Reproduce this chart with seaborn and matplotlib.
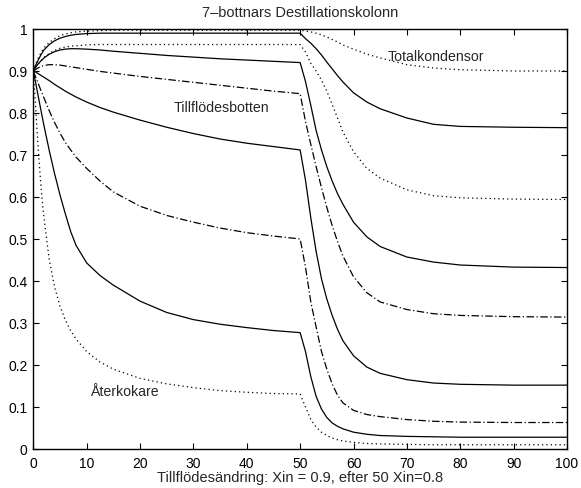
import matplotlib
matplotlib.use("Agg")
import matplotlib.pyplot as plt
import seaborn as sns

# time grid (same for every tray)
t = [0, 0.5, 1, 1.5, 2, 3, 4, 5, 6, 7, 8, 10, 12.5, 15, 20, 25, 30, 35, 40, 45,
     50, 51, 52, 53, 54, 55, 56, 57, 58, 60, 62.5, 65, 70, 75, 80, 90, 100]

# concentration per tray
totalkondensor = [0.9, 0.918, 0.933, 0.945, 0.955, 0.968, 0.977, 0.984, 0.988, 0.991, 0.993, 0.995, 0.996, 0.997, 0.997, 0.997, 0.997, 0.997, 0.997, 0.997,
                  0.997, 0.995, 0.993, 0.990, 0.986, 0.981, 0.975, 0.969, 0.962, 0.952, 0.940, 0.931, 0.915, 0.907, 0.903, 0.900, 0.900]
botten1 = [0.9, 0.915, 0.928, 0.940, 0.950, 0.963, 0.972, 0.978, 0.982, 0.985, 0.987, 0.989, 0.990, 0.990, 0.990, 0.990, 0.990, 0.990, 0.990, 0.990,
           0.990, 0.977, 0.966, 0.953, 0.938, 0.921, 0.905, 0.889, 0.874, 0.848, 0.826, 0.810, 0.788, 0.773, 0.768, 0.766, 0.765]
botten2 = [0.9, 0.910, 0.918, 0.925, 0.932, 0.942, 0.949, 0.954, 0.957, 0.959, 0.960, 0.962, 0.963, 0.963, 0.963, 0.963, 0.963, 0.963, 0.963, 0.963,
           0.963, 0.945, 0.918, 0.900, 0.878, 0.852, 0.820, 0.788, 0.755, 0.708, 0.668, 0.645, 0.617, 0.603, 0.598, 0.595, 0.594]
botten3 = [0.9, 0.910, 0.918, 0.925, 0.931, 0.940, 0.946, 0.950, 0.952, 0.953, 0.953, 0.952, 0.950, 0.947, 0.942, 0.937, 0.933, 0.929, 0.926, 0.923,
           0.920, 0.875, 0.818, 0.758, 0.712, 0.672, 0.638, 0.608, 0.583, 0.540, 0.505, 0.482, 0.457, 0.445, 0.438, 0.433, 0.432]
tillflodesbotten = [0.9, 0.904, 0.908, 0.911, 0.913, 0.915, 0.915, 0.914, 0.912, 0.910, 0.908, 0.904, 0.899, 0.895, 0.887, 0.880, 0.873, 0.866, 0.859, 0.852,
                    0.846, 0.780, 0.725, 0.672, 0.622, 0.575, 0.532, 0.494, 0.460, 0.410, 0.372, 0.350, 0.332, 0.322, 0.318, 0.315, 0.314]
botten5 = [0.9, 0.897, 0.893, 0.889, 0.885, 0.877, 0.868, 0.860, 0.852, 0.845, 0.838, 0.826, 0.813, 0.802, 0.783, 0.766, 0.751, 0.738, 0.728, 0.720,
           0.712, 0.640, 0.550, 0.470, 0.405, 0.357, 0.318, 0.285, 0.258, 0.222, 0.195, 0.180, 0.165, 0.157, 0.154, 0.152, 0.152]
botten6 = [0.9, 0.884, 0.868, 0.851, 0.836, 0.805, 0.777, 0.752, 0.730, 0.712, 0.695, 0.668, 0.638, 0.612, 0.578, 0.556, 0.540, 0.526, 0.515, 0.507,
           0.500, 0.433, 0.350, 0.290, 0.232, 0.190, 0.155, 0.128, 0.110, 0.092, 0.082, 0.077, 0.070, 0.066, 0.064, 0.063, 0.063]
botten7 = [0.9, 0.868, 0.835, 0.802, 0.770, 0.710, 0.655, 0.605, 0.560, 0.518, 0.485, 0.443, 0.413, 0.390, 0.352, 0.325, 0.308, 0.297, 0.289, 0.282,
           0.277, 0.232, 0.172, 0.125, 0.095, 0.075, 0.062, 0.054, 0.048, 0.040, 0.035, 0.032, 0.030, 0.029, 0.028, 0.028, 0.028]
aterkokare = [0.9, 0.800, 0.700, 0.615, 0.550, 0.450, 0.385, 0.340, 0.307, 0.282, 0.262, 0.232, 0.207, 0.190, 0.168, 0.155, 0.146, 0.139, 0.135, 0.132,
              0.131, 0.100, 0.070, 0.052, 0.040, 0.032, 0.026, 0.022, 0.019, 0.016, 0.013, 0.012, 0.011, 0.010, 0.010, 0.010, 0.010]

series = [totalkondensor, botten1, botten2, botten3, tillflodesbotten,
          botten5, botten6, botten7, aterkokare]
dotted = (0, (1, 2.5))
dashdot = (0, (6, 2, 1, 2))
styles = [dotted, "-", dotted, "-", dashdot, "-", dashdot, "-", dotted]

sns.set_style("ticks")
plt.rcParams["font.family"] = ["Liberation Sans", "DejaVu Sans"]

fig = plt.figure(figsize=(5.81, 4.89), dpi=100)
ax = fig.add_axes([0.0573, 0.0798, 0.9186, 0.8589])

for y, ls in zip(series, styles):
    sns.lineplot(x=t, y=y, ax=ax, color="black", linestyle=ls,
                 linewidth=0.9, sort=False)

ax.set_xlim(0, 100)
ax.set_ylim(0, 1)
ax.set_xticks(range(0, 101, 10))
yt = [i / 10 for i in range(11)]
ax.set_yticks(yt)
ax.set_yticklabels(["0"] + [f"{v:.1f}" for v in yt[1:-1]] + ["1"])
ax.tick_params(direction="in", length=4, width=0.8, top=True, right=True,
               labelsize=10, colors="black", pad=4)
ax.tick_params(axis="x", pad=5)
for s in ax.spines.values():
    s.set_visible(True)
    s.set_linewidth(1.0)
    s.set_color("black")

ax.text(75.5, 0.936, "Totalkondensor", fontsize=10.2, ha="center", va="center")
ax.text(35.3, 0.815, "Tillflödesbotten", fontsize=10.2, ha="center", va="center")
ax.text(17, 0.137, "Återkokare", fontsize=10.2, ha="center", va="center")

ax.set_title("7–bottnars Destillationskolonn", fontsize=10.5, pad=9)
ax.set_xlabel("Tillflödesändring: Xin = 0.9, efter 50 Xin=0.8", fontsize=10.5, labelpad=0)
ax.set_ylabel("")

fig.savefig("out.png", dpi=100)
